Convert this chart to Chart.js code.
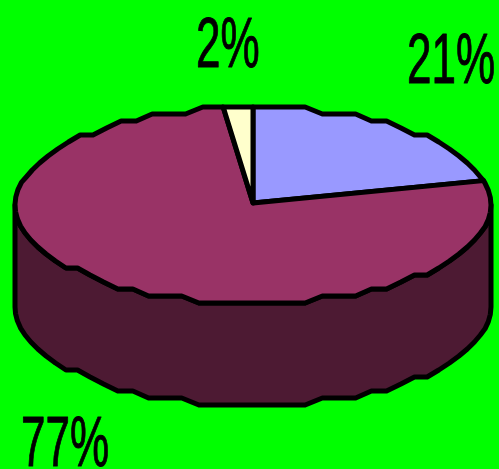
<!DOCTYPE html>
<html>
<head>
<meta charset="utf-8">
<style>
html, body { margin: 0; padding: 0; background: #00FF00; overflow: hidden; }
canvas { display: block; }
</style>
<script src="https://cdn.jsdelivr.net/npm/chart.js@4"></script>
</head>
<body>
<canvas id="chart" width="499" height="469"></canvas>
<script>
var categories = ['A', 'B', 'C'];
var values = [21, 77, 2];
var percentLabels = ['21%', '77%', '2%'];
var topColors = ['#9999FF', '#993366', '#FFFFCC'];
var sideColors = ['#4D4D80', '#4D1A33', '#808066'];

// flattened disc, the library only works out the slice angles
var disc = { cx: 253, cy: 205, rx: 238, ry: 98, depth: 102, step: 0.075, gridY: 7 };
var labelSpots = [[407, 83], [21, 466], [196, 67]];

function rimPoint(a, dy) {
    var x = disc.cx + disc.rx * Math.cos(a);
    var y = disc.ry * Math.sin(a);
    // the original outline is stepped, like a low resolution metafile
    if (Math.abs(Math.sin(a)) > 0.25) y = Math.round(y / disc.gridY) * disc.gridY;
    return [x, disc.cy + y + (dy || 0)];
}

function rimPath(ctx, from, to, dy) {
    var angles = [from];
    var k = Math.ceil(from / disc.step + 0.01);
    while (k * disc.step < to) { angles.push(k * disc.step); k++; }
    angles.push(to);
    return angles.map(function (a) { return rimPoint(a, dy); });
}

function addPoints(ctx, pts) {
    pts.forEach(function (p) { ctx.lineTo(p[0], p[1]); });
}

var flatPie = {
    id: 'flatPie',
    beforeDatasetsDraw: function (chart) {
        var ctx = chart.ctx;
        var arcs = chart.getDatasetMeta(0).data;
        ctx.save();
        ctx.lineWidth = 5;
        ctx.lineJoin = 'round';
        ctx.strokeStyle = '#000';

        // side wall, front half only
        arcs.forEach(function (arc, i) {
            var from = Math.max(arc.startAngle, 0);
            var to = Math.min(arc.endAngle, Math.PI);
            if (to <= from) return;
            ctx.beginPath();
            addPoints(ctx, rimPath(ctx, from, to, 0));
            addPoints(ctx, rimPath(ctx, from, to, disc.depth).reverse());
            ctx.closePath();
            ctx.fillStyle = sideColors[i];
            ctx.fill();
            ctx.stroke();
        });

        // top face
        arcs.forEach(function (arc, i) {
            ctx.beginPath();
            ctx.moveTo(disc.cx, disc.cy - 2);
            addPoints(ctx, rimPath(ctx, arc.startAngle, arc.endAngle, 0));
            ctx.closePath();
            ctx.fillStyle = topColors[i];
            ctx.fill();
            ctx.stroke();
        });

        // percent labels, tall narrow type
        ctx.fillStyle = '#000';
        ctx.font = '71px "Liberation Sans"';
        ctx.textBaseline = 'alphabetic';
        ctx.lineWidth = 1;
        percentLabels.forEach(function (text, i) {
            ctx.save();
            ctx.translate(labelSpots[i][0], labelSpots[i][1]);
            ctx.scale(0.62, 1);
            ctx.fillText(text, 0, 0);
            ctx.strokeText(text, 0, 0);
            ctx.restore();
        });
        ctx.restore();
        return false;
    }
};

new Chart(document.getElementById('chart'), {
    type: 'pie',
    data: {
        labels: categories,
        datasets: [{ data: values, backgroundColor: topColors, borderColor: '#000', borderWidth: 4 }]
    },
    options: {
        responsive: false,
        animation: false,
        plugins: { legend: { display: false }, tooltip: { enabled: false } }
    },
    plugins: [flatPie]
});
</script>
</body>
</html>
